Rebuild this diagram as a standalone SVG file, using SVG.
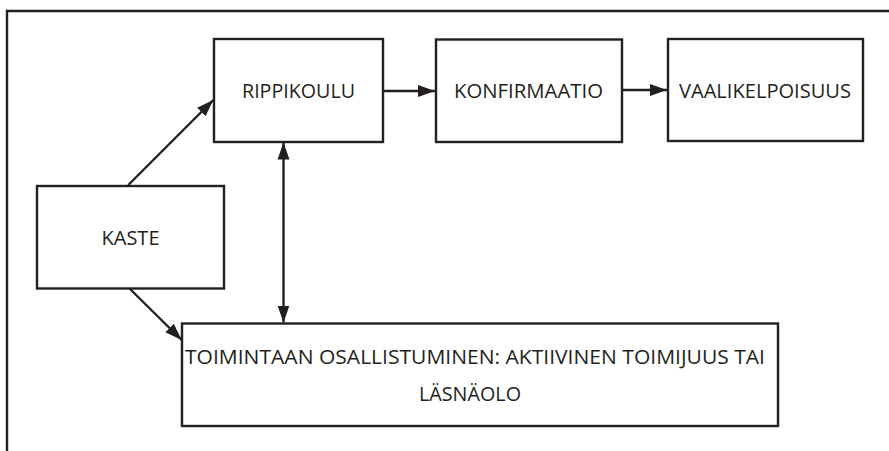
<svg xmlns="http://www.w3.org/2000/svg" width="889" height="451" viewBox="0 0 889 451">
<style>
.box{fill:#fff;stroke:#231f20;stroke-width:2.4}
.lbl{font-family:"Open Sans","Noto Sans","DejaVu Sans",sans-serif;font-size:20px;fill:#231f20;text-anchor:middle}
.con{fill:none;stroke:#231f20;stroke-width:2.4}
.frame{fill:none;stroke:#231f20;stroke-width:2.4}
</style>
<defs>
<marker id="arr" markerUnits="userSpaceOnUse" markerWidth="17" markerHeight="13" viewBox="0 0 17 13" refX="17" refY="6.5" orient="auto-start-reverse">
<path d="M0,0.5 L17,6.5 L0,12.5 z" fill="#231f20"/>
</marker>
</defs>
<path class="frame" d="M7,451 L7,11 L889,11"/>
<g id="rippikoulu"><rect class="box" x="214" y="39" width="169" height="103"/><text class="lbl" x="298.5" y="98" textLength="113" lengthAdjust="spacingAndGlyphs">RIPPIKOULU</text></g>
<g id="konfirmaatio"><rect class="box" x="436" y="39.5" width="186" height="102.5"/><text class="lbl" x="528.5" y="98" textLength="149" lengthAdjust="spacingAndGlyphs">KONFIRMAATIO</text></g>
<g id="vaalikelpoisuus"><rect class="box" x="668" y="39" width="195" height="102"/><text class="lbl" x="765" y="98" textLength="172" lengthAdjust="spacingAndGlyphs">VAALIKELPOISUUS</text></g>
<g id="kaste"><rect class="box" x="37" y="186" width="187" height="102.5"/><text class="lbl" x="130.5" y="245" textLength="58" lengthAdjust="spacingAndGlyphs">KASTE</text></g>
<g id="toimintaan"><rect class="box" x="182" y="323.5" width="596" height="102.5"/><text class="lbl" x="475" y="364" textLength="580" lengthAdjust="spacingAndGlyphs">TOIMINTAAN OSALLISTUMINEN: AKTIIVINEN TOIMIJUUS TAI</text><text class="lbl" x="470" y="400.5" textLength="102" lengthAdjust="spacingAndGlyphs">LÄSNÄOLO</text></g>
<g id="connectors">
<line class="con" x1="128.3" y1="185" x2="213.3" y2="100" marker-end="url(#arr)"/>
<line class="con" x1="130" y1="289" x2="181.7" y2="340" marker-end="url(#arr)"/>
<line class="con" x1="283.5" y1="142.5" x2="283.5" y2="322.5" marker-start="url(#arr)" marker-end="url(#arr)"/>
<line class="con" x1="383" y1="91" x2="435" y2="91" marker-end="url(#arr)"/>
<line class="con" x1="622" y1="90" x2="667" y2="90" marker-end="url(#arr)"/>
</g>
</svg>
